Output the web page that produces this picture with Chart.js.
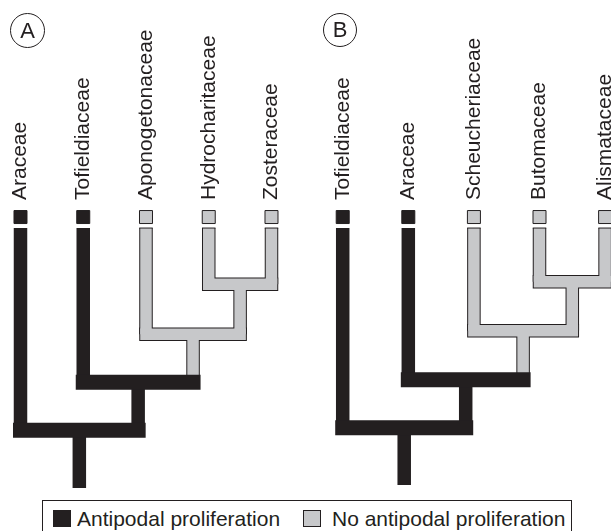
<!DOCTYPE html>
<html>
<head>
<meta charset="utf-8">
<script src="https://cdn.jsdelivr.net/npm/chart.js@4"></script>
<style>
  html, body { margin: 0; padding: 0; background: #fff; }
  body { width: 611px; height: 531px; overflow: hidden; position: relative;
         font-family: "Liberation Sans", Arial, sans-serif; color: #231f20; }
  canvas { position: absolute; top: 0; }
  #treeA { left: 0; }
  #treeB { left: 305px; }
  .tag { position: absolute; box-sizing: border-box; border: 1px solid #231f20; border-radius: 50%;
         text-align: center; font-size: 22px; }
  .legend { position: absolute; left: 42px; top: 500px; width: 530px; height: 40px;
            box-sizing: border-box; border: 1px solid #231f20; }
  .sw { position: absolute; top: 9px; width: 18px; height: 17px; box-sizing: border-box; }
  .lt { position: absolute; top: 7px; font-size: 21px; line-height: 21px; white-space: nowrap; }
</style>
</head>
<body>
<canvas id="treeA" width="305" height="488"></canvas>
<canvas id="treeB" width="306" height="488"></canvas>

<div class="tag" style="left:10px;top:13px;width:35px;height:35px;line-height:33px;">A</div>
<div class="tag" style="left:323px;top:13px;width:34px;height:34px;line-height:32px;">B</div>

<div class="legend">
  <span class="sw" style="left:10px;background:#231f20;"></span>
  <span class="lt" style="left:34px;">Antipodal proliferation</span>
  <span class="sw" style="left:260px;background:#c7c8ca;border:1px solid #231f20;"></span>
  <span class="lt" style="left:289px;">No antipodal proliferation</span>
</div>

<script>
// ---- data -------------------------------------------------------------
// Both trees share a ladder topology: each join lists its two children,
// a number is a leaf index, 'nK' is the K-th join.
const joins = [[3, 4], [2, 'n0'], [1, 'n1'], [0, 'n2']];

// Tree A
const leavesA      = ['Araceae', 'Tofieldiaceae', 'Aponogetonaceae', 'Hydrocharitaceae', 'Zosteraceae'];
const leafStatesA  = [1, 1, 0, 0, 0];          // 1 = antipodal proliferation
const joinHeightsA = [4.2, 3.17, 2.18, 1.19];
const joinStatesA  = [0, 0, 1, 1];
const rootBaseA    = 0;
const tipHeightA   = 5.36;

// Tree B
const leavesB      = ['Tofieldiaceae', 'Araceae', 'Scheucheriaceae', 'Butomaceae', 'Alismataceae'];
const leafStatesB  = [1, 1, 0, 0, 0];
const joinHeightsB = [4.25, 3.24, 2.23, 1.24];
const joinStatesB  = [0, 0, 1, 1];
const rootBaseB    = 0.06;
const tipHeightB   = 5.36;

// ---- look ---------------------------------------------------------------
const INK  = '#231f20';
const GRAY = '#c7c8ca';

const PANEL_H    = 488;   // canvas height
const LABEL_BAND = 205;   // band on top that holds the family names
const Y_MIN = 0, Y_MAX = 5.835;
const PX_PER_UNIT = (PANEL_H - LABEL_BAND) / (Y_MAX - Y_MIN);

const W_BLACK_V = 13.5, W_BLACK_H = 15;
const W_GRAY_OUT = 13.5, W_GRAY_IN = 11.5;
const TIP_GAP = 4, TIP_BOX = 13;
const LABEL_SIZE = 21;

function buildTree(canvasId, xMin, xMax, leaves, leafStates, joinHeights, joinStates, rootBase, tipHeight) {
  const nodes = {};
  leaves.forEach((name, i) => { nodes[i] = { x: i, h: tipHeight, state: leafStates[i], leaf: true }; });

  const segs = { grayV: [], grayH: [], blackV: [], blackH: [] };
  const add = (list, x0, y0, x1, y1, extra) => {
    list.push(Object.assign({ x: x0, y: y0 }, extra || {}), { x: x1, y: y1 }, { x: x1, y: null });
  };

  joins.forEach((pair, k) => {
    const a = nodes[pair[0]], b = nodes[pair[1]];
    const n = { x: (a.x + b.x) / 2, h: joinHeights[k], state: joinStates[k] };
    a.parentH = n.h; b.parentH = n.h;
    nodes['n' + k] = n;
    add(n.state ? segs.blackH : segs.grayH, a.x, n.h, b.x, n.h);
  });
  nodes['n' + (joins.length - 1)].parentH = rootBase;

  Object.values(nodes).forEach(n => {
    // vertical branch drawn from the top end down to the parent bar
    add(n.state ? segs.blackV : segs.grayV, n.x, n.h, n.x, n.parentH, n.leaf ? { cap: true } : null);
  });

  const boxLift = (TIP_GAP + TIP_BOX / 2 + 0.5) / PX_PER_UNIT;
  const tips = leaves.map((_, i) => ({ x: i, y: tipHeight + boxLift }));

  const line = (data, color, width, cap, order) => ({
    type: 'line', data, borderColor: color, borderWidth: width,
    borderCapStyle: cap, borderJoinStyle: 'miter', fill: false, tension: 0,
    spanGaps: false, pointRadius: 0, pointHoverRadius: 0, clip: false, order
  });

  const grayFillV = line(segs.grayV, GRAY, W_GRAY_IN, 'butt', 6);
  grayFillV.pointStyle = 'line';
  grayFillV.pointRadius = ctx => (ctx.raw && ctx.raw.cap ? W_GRAY_OUT / 2 : 0);
  grayFillV.pointBorderColor = INK;
  grayFillV.pointBorderWidth = 1;

  const datasets = [
    line(segs.grayV, INK, W_GRAY_OUT, 'butt', 8),
    line(segs.grayH, INK, W_GRAY_OUT, 'square', 7),
    grayFillV,
    line(segs.grayH, GRAY, W_GRAY_IN, 'square', 5),
    line(segs.blackV, INK, W_BLACK_V, 'butt', 4),
    line(segs.blackH, INK, W_BLACK_H, 'square', 3),
    {
      type: 'line', data: tips, showLine: false, clip: false, order: 1,
      pointStyle: 'rect', pointRadius: TIP_BOX / Math.SQRT2, pointHoverRadius: TIP_BOX / Math.SQRT2,
      pointBackgroundColor: leafStates.map(s => (s ? INK : GRAY)),
      pointBorderColor: INK, pointBorderWidth: 1
    }
  ];

  return new Chart(document.getElementById(canvasId), {
    type: 'line',
    data: { datasets },
    options: {
      responsive: false,
      animation: false,
      events: [],
      layout: { padding: 0, autoPadding: false },
      plugins: { legend: { display: false }, tooltip: { enabled: false } },
      scales: {
        x: {
          type: 'linear', position: 'top', min: xMin, max: xMax,
          grid: { display: false, drawTicks: false }, border: { display: false },
          afterBuildTicks: s => { s.ticks = leaves.map((_, i) => ({ value: i })); },
          afterFit: s => { s.height = LABEL_BAND; s.paddingLeft = 0; s.paddingRight = 0; },
          ticks: {
            autoSkip: false, minRotation: 90, maxRotation: 90, padding: 5, color: INK,
            // rotated labels sit one line-height off their tick; pull them back over the stem
            labelOffset: LABEL_SIZE * 1.2,
            font: { family: 'Liberation Sans', size: LABEL_SIZE },
            callback: v => leaves[v] ?? ''
          }
        },
        y: { type: 'linear', display: false, min: Y_MIN, max: Y_MAX }
      }
    }
  });
}

buildTree('treeA', -0.3267, 4.534, leavesA, leafStatesA, joinHeightsA, joinStatesA, rootBaseA, tipHeightA);
buildTree('treeB', -0.575, 4.09, leavesB, leafStatesB, joinHeightsB, joinStatesB, rootBaseB, tipHeightB);
</script>
</body>
</html>
